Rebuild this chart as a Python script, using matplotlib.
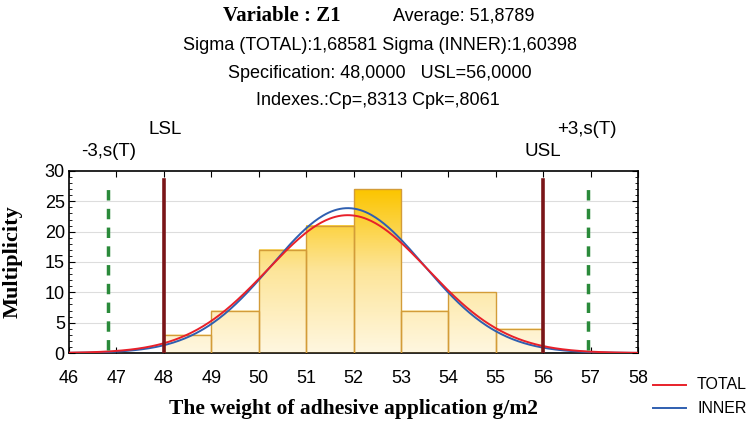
import matplotlib.pyplot as plt
import matplotlib.colors as mcolors
import numpy as np

# histogram data (bin edges and counts)
bin_edges = [48, 49, 50, 51, 52, 53, 54, 55, 56]
counts = [3, 7, 17, 21, 27, 7, 10, 4]

mean = 51.8789
sigma_total = 1.68581
sigma_inner = 1.60398
lsl = 48.0
usl = 56.0

x_ticks = [46, 47, 48, 49, 50, 51, 52, 53, 54, 55, 56, 57, 58]
y_ticks = [0, 5, 10, 15, 20, 25, 30]

sans = 'Liberation Sans'
serif = 'Liberation Serif'

fig = plt.figure(figsize=(7.56, 4.22), dpi=100)
ax = fig.add_axes([0.0913, 0.1635, 0.7526, 0.4313])

# bars with vertical gradient (pale at bottom, gold at the top of the tallest bar)
cmap = mcolors.LinearSegmentedColormap.from_list(
    'gold', ['#fff7e0', '#fde59a', '#fbc500'])
norm = mcolors.Normalize(0, max(counts))
for x0, x1, h in zip(bin_edges[:-1], bin_edges[1:], counts):
    grad = np.linspace(0, h, 100).reshape(-1, 1)
    ax.imshow(grad, cmap=cmap, norm=norm, origin='lower', aspect='auto',
              extent=[x0, x1, 0, h], zorder=2)
    ax.add_patch(plt.Rectangle((x0, 0), x1 - x0, h, fill=False,
                               edgecolor='#d39c38', lw=1.0, zorder=3))

# fitted normal curves
n = sum(counts)
width = bin_edges[1] - bin_edges[0]
xs = np.linspace(46, 58, 400)


def normal_curve(s):
    return n * width / (s * np.sqrt(2 * np.pi)) * np.exp(-0.5 * ((xs - mean) / s) ** 2)


ax.plot(xs, normal_curve(sigma_total), color='#e8202a', lw=1.4, zorder=5)
ax.plot(xs, normal_curve(sigma_inner), color='#2f5fb0', lw=1.4, zorder=4)

# spec limits and +-3 sigma lines
for v in (lsl, usl):
    ax.plot([v, v], [0, 28.5], color='#7a1518', lw=2.6, zorder=6)
for v in (mean - 3 * sigma_total, mean + 3 * sigma_total):
    ax.plot([v, v], [0.5, 28.2], color='#2a8a3a', lw=2.5, ls=(0, (3, 2.4)), zorder=6)

ax.set_xlim(46, 58)
ax.set_ylim(0, 30)
ax.set_xticks(x_ticks)
ax.set_yticks(y_ticks)
ax.set_yticks(np.arange(0, 30.1, 1), minor=True)
ax.set_xticklabels([str(t) for t in x_ticks], fontfamily=sans, fontsize=13)
ax.set_yticklabels([str(t) for t in y_ticks], fontfamily=sans, fontsize=13)
ax.tick_params(direction='in', top=True, right=True, length=4, pad=3)
ax.tick_params(axis='x', pad=12)
ax.tick_params(which='minor', direction='in', left=True, right=True, length=2)
for y in y_ticks[1:-1]:
    ax.axhline(y, color='#dddddd', lw=0.8, zorder=1)
for sp in ax.spines.values():
    sp.set_linewidth(1.2)

ax.set_ylabel('Multiplicity', fontfamily=serif, fontweight='bold', fontsize=16)
ax.yaxis.set_label_coords(-0.082, 0.5)
ax.set_xlabel('The weight of adhesive application g/m2', fontfamily=serif,
              fontweight='bold', fontsize=15.5, labelpad=9)

# header text
fig.text(0.373, 0.962, 'Variable : Z1', fontfamily=serif, fontweight='bold',
         fontsize=15, ha='center', va='center')
fig.text(0.520, 0.962, 'Average: 51,8789', fontfamily=sans, fontsize=13,
         ha='left', va='center')
fig.text(0.503, 0.893, 'Sigma (TOTAL):1,68581 Sigma (INNER):1,60398', fontfamily=sans,
         fontsize=13, ha='center', va='center')
fig.text(0.503, 0.827, 'Specification: 48,0000   USL=56,0000', fontfamily=sans,
         fontsize=13, ha='center', va='center')
fig.text(0.500, 0.761, 'Indexes.:Cp=,8313 Cpk=,8061', fontfamily=sans,
         fontsize=13, ha='center', va='center')

# line labels
fig.text(0.218, 0.692, 'LSL', fontfamily=sans, fontsize=13.5, ha='center', va='center')
fig.text(0.144, 0.642, '-3,s(T)', fontfamily=sans, fontsize=13.5, ha='center', va='center')
fig.text(0.718, 0.642, 'USL', fontfamily=sans, fontsize=13.5, ha='center', va='center')
fig.text(0.776, 0.692, '+3,s(T)', fontfamily=sans, fontsize=13.5, ha='center', va='center')

# legend
fig.lines.append(plt.Line2D([0.864, 0.908], [0.088, 0.088], color='#e8202a', lw=1.4,
                            transform=fig.transFigure))
fig.lines.append(plt.Line2D([0.864, 0.908], [0.033, 0.033], color='#2f5fb0', lw=1.4,
                            transform=fig.transFigure))
fig.text(0.922, 0.088, 'TOTAL', fontfamily=sans, fontsize=11.5, va='center')
fig.text(0.922, 0.033, 'INNER', fontfamily=sans, fontsize=11.5, va='center')

fig.savefig('out.png', dpi=100)
